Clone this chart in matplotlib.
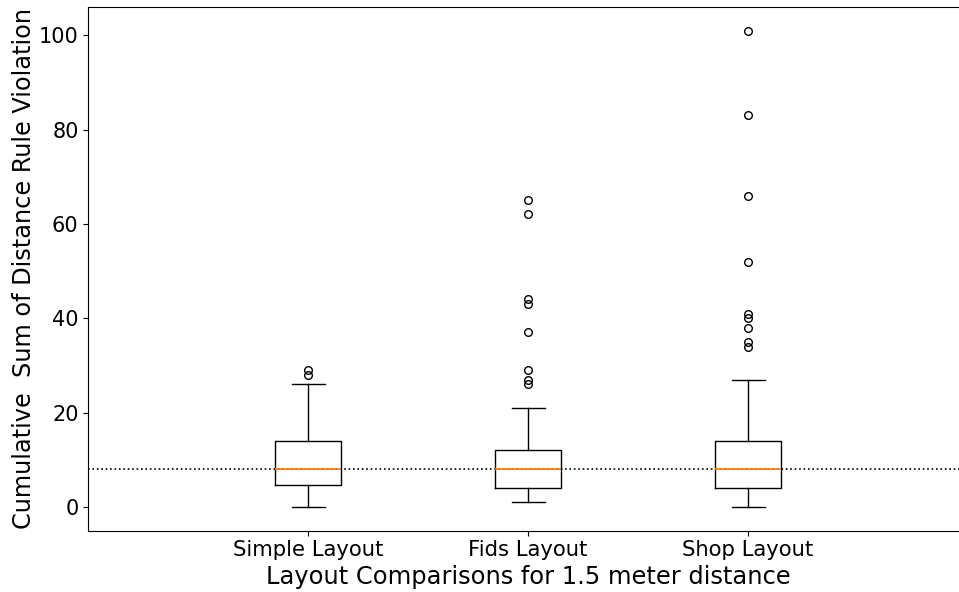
import matplotlib
matplotlib.use("Agg")
import matplotlib.pyplot as plt

# box summary per layout (violation counts)
layouts = ["Simple Layout", "Fids Layout", "Shop Layout"]
medians = [8, 8, 8]
q1s = [4.75, 4, 4]
q3s = [14, 12, 14]
whisk_low = [0, 1, 0]
whisk_high = [26, 21, 27]
outliers = [
    [28, 29],
    [26, 27, 29, 37, 43, 44, 62, 65],
    [34, 35, 38, 40, 41, 52, 66, 83, 101],
]
threshold = 8

stats = []
for i in range(len(layouts)):
    stats.append({
        "label": layouts[i],
        "med": medians[i],
        "q1": q1s[i],
        "q3": q3s[i],
        "whislo": whisk_low[i],
        "whishi": whisk_high[i],
        "fliers": outliers[i],
    })

fig = plt.figure(figsize=(9.59, 5.92), dpi=100)
ax = fig.add_axes([0.0921, 0.1035, 0.9173, 0.8852])
ax.bxp(stats, positions=[1, 2, 3], widths=0.3,
       flierprops=dict(marker="o", markersize=5.5, markerfacecolor="none"),
       medianprops=dict(color="#ff7f0e", linewidth=1.3))
ax.axhline(threshold, color="black", linestyle=":", linewidth=1.2)
ax.set_xlim(0, 4)
ax.set_ylim(-5.05, 106.05)
ax.tick_params(axis="both", labelsize=15)
ax.tick_params(axis="x", labelsize=15.2)
ax.set_xlabel("Layout Comparisons for 1.5 meter distance", fontsize=17.4, labelpad=3)
ax.set_ylabel("Cumulative  Sum of Distance Rule Violation", fontsize=17.3, labelpad=2)

fig.savefig("out.png", dpi=100)
